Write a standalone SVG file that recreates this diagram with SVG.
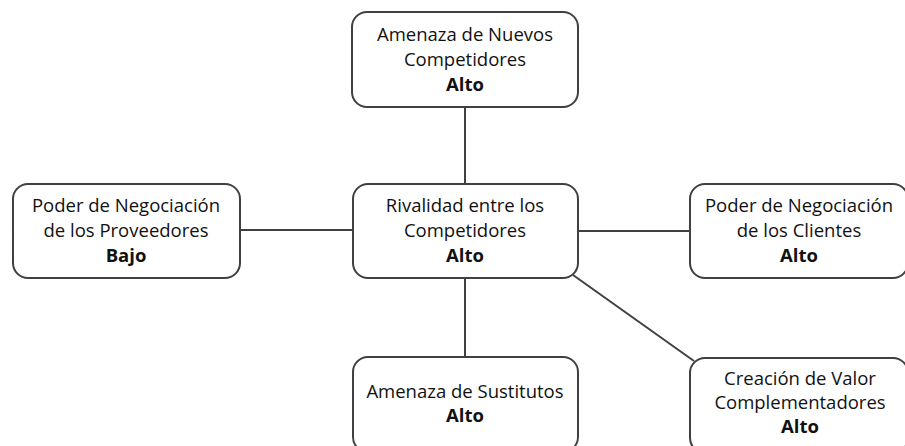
<svg xmlns="http://www.w3.org/2000/svg" width="905" height="446" viewBox="0 0 905 446">
<style>
.box{fill:#fff;stroke:#404040;stroke-width:2}
.ln{stroke:#404040;stroke-width:2;fill:none}
text{font-family:"Open Sans","Liberation Sans",sans-serif;font-size:18.5px;fill:#111;text-anchor:middle}
.b{font-weight:bold}
</style>
<rect width="905" height="446" fill="#fff"/>
<g id="connectors">
<line class="ln" x1="465" y1="107" x2="465" y2="184"/>
<line class="ln" x1="240" y1="230" x2="353" y2="230"/>
<line class="ln" x1="578" y1="231" x2="690" y2="231"/>
<line class="ln" x1="465" y1="278" x2="465" y2="357"/>
<line class="ln" x1="573" y1="275" x2="694" y2="361"/>
</g>
<g id="n-nuevos">
<rect class="box" x="352" y="12" width="226" height="95" rx="15"/>
<text x="465" y="41">Amenaza de Nuevos</text>
<text x="465" y="66">Competidores</text>
<text class="b" x="465" y="91">Alto</text>
</g>
<g id="n-proveedores">
<rect class="box" x="13" y="184" width="227" height="94" rx="15"/>
<text x="126" y="212">Poder de Negociación</text>
<text x="126" y="237">de los Proveedores</text>
<text class="b" x="126" y="262">Bajo</text>
</g>
<g id="n-rivalidad">
<rect class="box" x="353" y="184" width="225" height="94" rx="15"/>
<text x="465" y="212">Rivalidad entre los</text>
<text x="465" y="237">Competidores</text>
<text class="b" x="465" y="262">Alto</text>
</g>
<g id="n-clientes">
<rect class="box" x="690" y="184" width="218" height="94" rx="15"/>
<text x="799" y="212">Poder de Negociación</text>
<text x="799" y="237">de los Clientes</text>
<text class="b" x="799" y="262">Alto</text>
</g>
<g id="n-sustitutos">
<rect class="box" x="353" y="357" width="225" height="95" rx="15"/>
<text x="465" y="398">Amenaza de Sustitutos</text>
<text class="b" x="465" y="422">Alto</text>
</g>
<g id="n-complementadores">
<rect class="box" x="690" y="358" width="218" height="95" rx="15"/>
<text x="800" y="385">Creación de Valor</text>
<text x="800" y="409">Complementadores</text>
<text class="b" x="800" y="433">Alto</text>
</g>
</svg>
